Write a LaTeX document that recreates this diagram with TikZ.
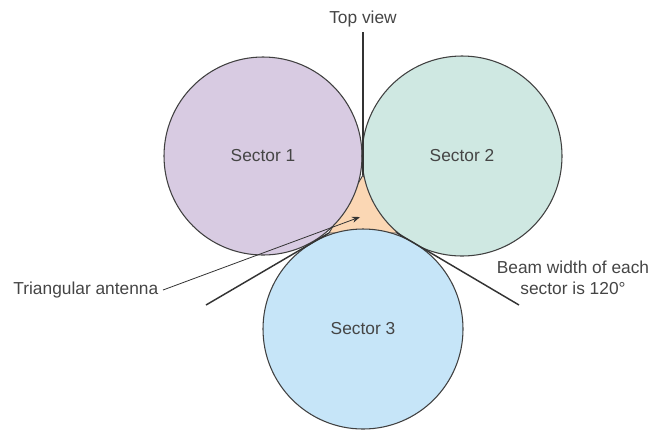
\documentclass[tikz,border=0pt]{standalone}
\usepackage{fontspec}
\setmainfont{Liberation Sans}
\usetikzlibrary{arrows.meta}
\definecolor{secone}{HTML}{D8CBE2}
\definecolor{sectwo}{HTML}{CFE8E2}
\definecolor{secthree}{HTML}{C6E5F8}
\definecolor{antfill}{HTML}{FBD7B4}
\definecolor{labelgray}{HTML}{454545}
\tikzset {
  >=Stealth,
  every node/.style={font=\fontsize{13}{16}\selectfont, text=labelgray},
  sector/.style={circle, draw=black!75, line width=0.8pt},
  beam/.style={draw=black!80, line width=1.1pt},
}

\begin{document}
\begin{tikzpicture}[x=0.75pt,y=-0.75pt]
      \useasboundingbox (0,0) rectangle (652,430);

      % the antenna between the sectors
      \filldraw[fill=antfill, draw=black!75, line width=0.7pt]
        (363,175) coordinate (top) -- (329,233) coordinate (bl)
        -- (397,233) coordinate (br) -- cycle;

      \node[sector, fill=secone, minimum size=148.5pt] (sec1) at (263,156) {Sector 1};
      \node[sector, fill=sectwo, minimum size=150pt] (sec2) at (462,156) {Sector 2};
      \node[sector, fill=secthree, minimum size=150pt] (sec3) at (363,329) {Sector 3};

      % sector boundaries
      \node (topview) at (363,19) {Top view};
      \coordinate (topend) at (363,32);
      \coordinate (leftend) at (206,305);
      \coordinate (rightend) at (519,305);
      \draw[beam] (top) -- (topend);
      \draw[beam] (bl) -- (leftend);
      \draw[beam] (br) -- (rightend);

      \node[anchor=east] (antlabel) at (163,290) {Triangular antenna};
      \coordinate (anttip) at (360,217);
      \draw[-{Stealth[length=6pt,width=4.5pt]}, black!80, line width=0.6pt]
        (antlabel.east) -- (anttip);

      \node[align=center] (beamlabel) at (573,278) {Beam width of each\\sector is 120\textdegree};
    \end{tikzpicture}
\end{document}
